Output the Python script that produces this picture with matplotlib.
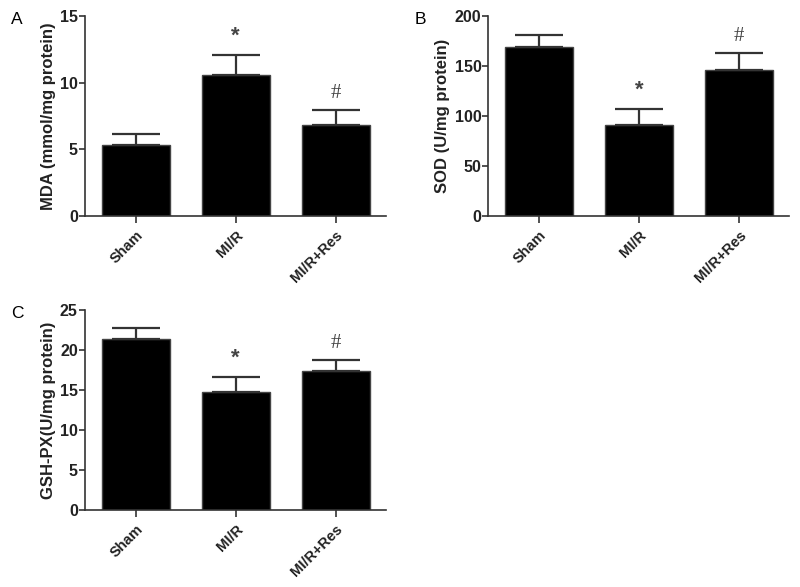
import numpy as np
import matplotlib
matplotlib.use('Agg')
import matplotlib.pyplot as plt

plt.rcParams['font.family'] = ['Liberation Sans', 'DejaVu Sans']

# Groups and values
groups = ['Sham', 'MI/R', 'MI/R+Res']

mda_mean = [5.3, 10.6, 6.8]
mda_err = [0.85, 1.45, 1.15]

sod_mean = [169.5, 91.0, 146.5]
sod_err = [11.5, 16.0, 17.0]

gsh_mean = [21.4, 14.7, 17.4]
gsh_err = [1.4, 1.9, 1.35]

marks = ['', '*', '#']

fig = plt.figure(figsize=(8.0, 5.87), dpi=100)


def panel(rect, means, errs, ymax, yticks, ylabel, letter):
    ax = fig.add_axes(rect)
    x = np.arange(len(groups))
    ax.bar(x, means, width=0.68, color='black', edgecolor='#444444', linewidth=1)
    ax.errorbar(x, means, yerr=[np.zeros(len(errs)), errs], fmt='none',
                ecolor='#333333', elinewidth=1.6, capsize=17, capthick=1.6)
    for xi, m, e, s in zip(x, means, errs, marks):
        if s == '*':
            ax.annotate(s, (xi, m + e), xytext=(0, 6), textcoords='offset points',
                        ha='center', va='bottom', fontsize=16, fontweight='bold',
                        color='#444444')
        elif s == '#':
            ax.annotate(s, (xi, m + e), xytext=(0, 5), textcoords='offset points',
                        ha='center', va='bottom', fontsize=15,
                        family='Liberation Serif', color='#444444')
    ax.set_xlim(-0.51, 2.5)
    ax.set_ylim(0, ymax)
    ax.set_yticks(yticks)
    ax.set_xticks(x)
    ax.set_xticklabels(groups, rotation=45, ha='right', rotation_mode='anchor',
                       fontsize=10.5, fontweight='bold', color='#222222')
    for lab in ax.get_yticklabels():
        lab.set_fontweight('bold')
        lab.set_fontsize(11.5)
        lab.set_color('#222222')
    ax.set_ylabel(ylabel, fontsize=12, fontweight='bold', color='#222222', labelpad=3)
    for side in ['top', 'right']:
        ax.spines[side].set_visible(False)
    for side in ['left', 'bottom']:
        ax.spines[side].set_color('#333333')
        ax.spines[side].set_linewidth(1.2)
    ax.tick_params(axis='y', direction='out', length=4, width=1.2, color='#333333', pad=1)
    ax.tick_params(axis='x', direction='out', length=5, width=1.2, color='#333333', pad=4)
    ax.text(-0.245, 1.02, letter, transform=ax.transAxes, fontsize=12.5,
            ha='left', va='top')
    return ax


panel([0.106, 0.632, 0.376, 0.3407], mda_mean, mda_err, 15, [0, 5, 10, 15],
      'MDA (mmol/mg protein)', 'A')
panel([0.6104, 0.632, 0.376, 0.3407], sod_mean, sod_err, 200, [0, 50, 100, 150, 200],
      'SOD (U/mg protein)', 'B')
panel([0.106, 0.1312, 0.376, 0.3407], gsh_mean, gsh_err, 25, [0, 5, 10, 15, 20, 25],
      'GSH-PX(U/mg protein)', 'C')

fig.savefig('out.png', dpi=100)
